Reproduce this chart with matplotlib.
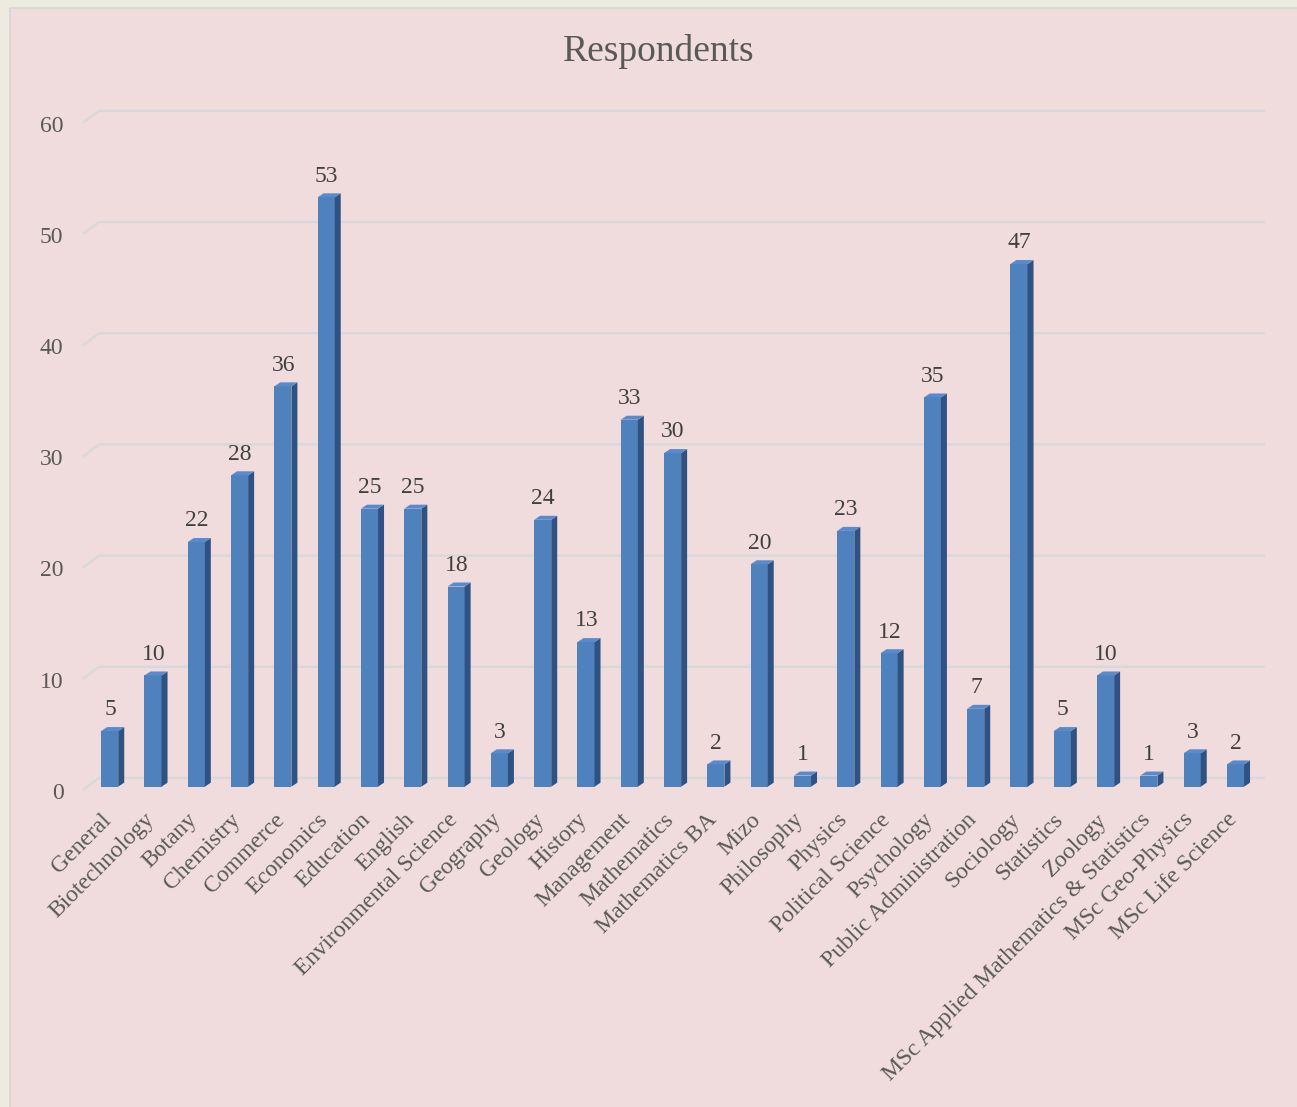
import matplotlib.pyplot as plt
from matplotlib.patches import Polygon, Rectangle

categories = ['General', 'Biotechnology', 'Botany', 'Chemistry', 'Commerce',
              'Economics', 'Education', 'English', 'Environmental Science',
              'Geography', 'Geology', 'History', 'Management', 'Mathematics',
              'Mathematics BA', 'Mizo', 'Philosophy', 'Physics',
              'Political Science', 'Psychology', 'Public Administration',
              'Sociology', 'Statistics', 'Zoology',
              'MSc Applied Mathematics & Statistics', 'MSc Geo-Physics',
              'MSc Life Science']
respondents = [5, 10, 22, 28, 36, 53, 25, 25, 18, 3, 24, 13, 33, 30, 2, 20,
               1, 23, 12, 35, 7, 47, 5, 10, 1, 3, 2]
yticks = [0, 10, 20, 30, 40, 50, 60]

plt.rcParams['font.family'] = ['Liberation Serif', 'DejaVu Serif']

W, H = 1297, 1107
fig = plt.figure(figsize=(W / 100, H / 100), dpi=100)
fig.patch.set_facecolor('#EDEAE0')

# axes spans whole figure; data limits chosen so pixel mapping fits
px_x, x0 = 43.3, 110.0     # pixels per category, pixel of category 0
px_y, y0 = 11.12, 790.0    # pixels per unit, pixel row of value 0
ax = fig.add_axes([0, 0, 1, 1])
ax.set_xlim(-x0 / px_x, (W - x0) / px_x)
ax.set_ylim(-(H - y0) / px_y, y0 / px_y)
ax.axis('off')

# pink chart area with thin grey border
ax.add_patch(Rectangle((10 / W, -0.01), 1, 1 - 8 / H + 0.01,
                       transform=ax.transAxes, facecolor='#F0DCDC',
                       edgecolor='#D6D6D6', lw=1.2, zorder=0))

# back-wall gridlines with the 3d offset
gdx, gdy = 16 / px_x, 12 / px_y
xl = (83 - x0) / px_x
xr = (1265 - x0) / px_x
for t in yticks:
    ax.plot([xl, xl + gdx, xr], [t, t + gdy, t + gdy], color='#D6D8DB',
            lw=1.6, solid_capstyle='butt', zorder=1)
    ax.text(xl - 0.45, t - 0.3, str(t), ha='right', va='center',
            fontsize=17, color='#595959')

# 3d-looking bars
bw_l, bw_r = 0.205, 0.19
ddx, ddy = 6 / px_x, 4 / px_y
base = 0.3
for i, v in enumerate(respondents):
    l, r = i - bw_l, i + bw_r
    b, t = base, base + v
    ax.add_patch(Polygon([(l, b), (r, b), (r, t), (l, t)], closed=True,
                         facecolor='#4F81BD', edgecolor='none', zorder=3))
    ax.add_patch(Polygon([(r, b), (r + ddx, b + ddy), (r + ddx, t + ddy),
                          (r, t)], closed=True, facecolor='#2F5283',
                         edgecolor='none', zorder=3))
    ax.add_patch(Polygon([(l, t), (r, t), (r + ddx, t + ddy),
                          (l + ddx, t + ddy)], closed=True,
                         facecolor='#5A8ACB', edgecolor='none', zorder=3))
    ax.text(i + 0.0, t + ddy + 0.6, str(v), ha='center', va='bottom',
            fontsize=17, color='#404040', zorder=4)

# rotated category labels
for i, c in enumerate(categories):
    ax.text(i - 0.05, -2.4, c, rotation=45, rotation_mode='anchor',
            ha='right', va='center', fontsize=17, color='#595959')

ax.text((659 - x0) / px_x, (y0 - 52) / px_y, 'Respondents', ha='center',
        va='center', fontsize=27, color='#595959')

fig.savefig('out.png', dpi=100, facecolor=fig.get_facecolor())
